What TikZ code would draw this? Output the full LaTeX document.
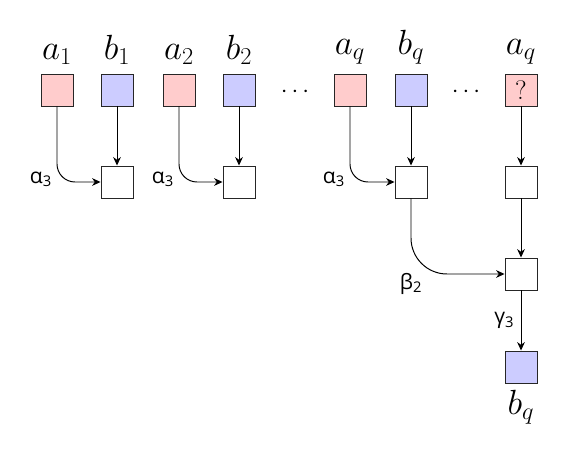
\documentclass[tikz,border=0pt]{standalone}
\usepackage{fontspec}
\newfontfamily\greeksf{Open Sans}
\usetikzlibrary{positioning,arrows.meta}

\begin{document}
\begin{tikzpicture}[
    box/.style={draw=black!85, line width=0.7pt, minimum size=0.8cm, inner sep=0pt},
    abox/.style={box, fill=red!20},
    bbox/.style={box, fill=blue!20},
    wbox/.style={box, fill=white},
    var/.style={font=\fontsize{26}{30}\selectfont, inner sep=1pt},
    coef/.style={font=\greeksf\fontsize{15}{17}\selectfont, inner sep=1pt},
    flow/.style={-{Stealth[length=6pt,width=5.5pt]}, line width=0.7pt}]
    \useasboundingbox (0,0) rectangle (14.25,-11.375);

    % Input row
    \node[abox] (a1) at (1.425,-2.25) {};
    \node[bbox] (b1) at (2.925,-2.25) {};
    \node[abox] (a2) at (4.475,-2.25) {};
    \node[bbox] (b2) at (5.975,-2.25) {};
    \node[abox] (aq) at (8.75,-2.25) {};
    \node[bbox] (bq) at (10.275,-2.25) {};
    \node[abox, font=\fontsize{19}{21}\selectfont] (ax) at (13.025,-2.25) {?};

    % Dots
    \node[font=\fontsize{18}{20}\selectfont] (d1) at (7.375,-2.3) {$\cdots$};
    \node[font=\fontsize{18}{20}\selectfont] (d2) at (11.65,-2.3) {$\cdots$};

    % Input labels
    \node[var, above=0.18cm of a1] (la1) {$a_1$};
    \node[var, above=0.18cm of b1] (lb1) {$b_1$};
    \node[var, above=0.18cm of a2] (la2) {$a_2$};
    \node[var, above=0.18cm of b2] (lb2) {$b_2$};
    \node[var, above=0.18cm of aq] (laq) {$a_q$};
    \node[var, above=0.18cm of bq] (lbq) {$b_q$};
    \node[var, above=0.18cm of ax] (lax) {$a_q$};

    % Combination row
    \node[wbox] (c1) at (2.925,-4.55) {};
    \node[wbox] (c2) at (5.975,-4.55) {};
    \node[wbox] (cq) at (10.275,-4.55) {};
    \node[wbox] (cx) at (13.025,-4.55) {};

    % Merge and output
    \node[wbox] (m) at (13.025,-6.85) {};
    \node[bbox] (out) at (13.025,-9.175) {};
    \node[var, below=0.12cm of out] (lout) {$b_q$};

    % Straight arrows
    \draw[flow] (b1) -- (c1);
    \draw[flow] (b2) -- (c2);
    \draw[flow] (bq) -- (cq);
    \draw[flow] (ax) -- (cx);
    \draw[flow] (cx) -- (m);
    \draw[flow] (m) -- node[coef, left=0.12cm] (g3) {γ\textsubscript{3}} (out);

    % Bent arrows
    \draw[flow, rounded corners=0.45cm] (a1) |- node[coef, pos=0.5, left=0.08cm, yshift=2pt] (al1) {α\textsubscript{3}} (c1);
    \draw[flow, rounded corners=0.45cm] (a2) |- node[coef, pos=0.5, left=0.08cm, yshift=2pt] (al2) {α\textsubscript{3}} (c2);
    \draw[flow, rounded corners=0.45cm] (aq) |- node[coef, pos=0.5, left=0.08cm, yshift=2pt] (alq) {α\textsubscript{3}} (cq);
    \draw[flow, rounded corners=0.9cm] (cq) |- node[coef, pos=0.5, below=-2pt] (b2l) {β\textsubscript{2}} (m);
\end{tikzpicture}
\end{document}
